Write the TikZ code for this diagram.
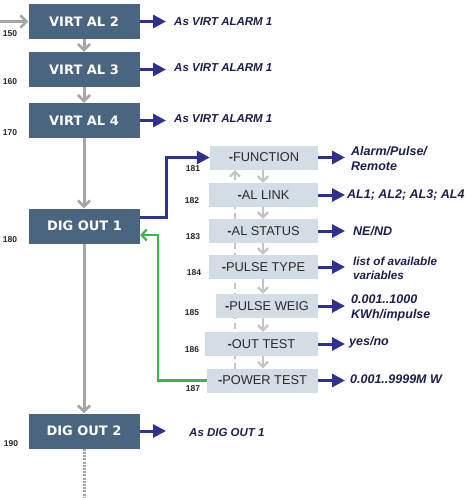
\documentclass[tikz,border=0pt]{standalone}
\usepackage{fontspec}
\setmainfont{Liberation Sans}
\newfontfamily\dvs{DejaVu Sans}
\usetikzlibrary{arrows.meta}
\definecolor{boxdark}{HTML}{4A6580}
\definecolor{boxlight}{HTML}{D3DDE6}
\definecolor{boxtext}{HTML}{2A2A2A}
\definecolor{navytext}{HTML}{1C1E4F}
\definecolor{bluearr}{HTML}{2E3192}
\definecolor{grayarr}{HTML}{A6A6A6}
\definecolor{lgrayarr}{HTML}{C4C4C4}
\definecolor{greenarr}{HTML}{3DB54A}
\begin{document}
\begin{tikzpicture}[x=1pt,y=-1pt,
  darkbox/.style={fill=boxdark, text=white, font=\dvs\bfseries\fontsize{13}{15}\selectfont,
    minimum width=111pt, minimum height=35pt, inner sep=0pt},
  lightbox/.style={fill=boxlight, text=boxtext, font=\fontsize{12.8}{14}\selectfont,
    minimum height=24pt, inner sep=0pt},
  numlabel/.style={font=\bfseries\fontsize{8.5}{10}\selectfont, text=black!85, inner sep=0pt},
  rtext/.style={font=\bfseries\itshape\fontsize{12.5}{15}\selectfont, text=navytext,
    anchor=west, align=left, inner sep=0pt},
  stext/.style={rtext, font=\bfseries\itshape\fontsize{11.5}{14}\selectfont},
  grayarrow/.style={draw=grayarr, line width=3pt, -{Straight Barb[length=6pt,width=12pt,line width=2.6pt]}},
  lgrayarrow/.style={draw=lgrayarr, line width=2.6pt, -{Straight Barb[length=5pt,width=10pt,line width=2.3pt]}},
  bluearrow/.style={draw=bluearr, line width=3pt, -{Triangle[length=13pt,width=13pt]}},
  greenarrow/.style={draw=greenarr, line width=2.4pt, -{Straight Barb[length=5pt,width=11pt,line width=2.2pt]}},
]
\useasboundingbox (0,0) rectangle (474,498);

% helper coordinates
\coordinate (inl) at (0,22);
\coordinate (tipx) at (166,0);
\coordinate (ltipx) at (345,0);
\coordinate (bx) at (166,0);
\coordinate (gx) at (158,0);
\coordinate (ax) at (263,0);
\coordinate (dashx) at (235,0);
\coordinate (dashtop) at (235,170);
\coordinate (bottom) at (84,498);

% dark boxes
\node[darkbox] (v2) at (84,21.5) {VIRT AL 2};
\node[darkbox] (v3) at (84,69.5) {VIRT AL 3};
\node[darkbox] (v4) at (84,120.5) {VIRT AL 4};
\node[darkbox] (d1) at (84.5,226) {DIG OUT 1};
\node[darkbox] (d2) at (84,431) {DIG OUT 2};

% numbers
\node[numlabel] (n150) at (10,34) {150};
\node[numlabel] (n160) at (10,82) {160};
\node[numlabel] (n170) at (10,133) {170};
\node[numlabel] (n180) at (10,240) {180};
\node[numlabel] (n190) at (11,444) {190};

% dashed return line behind light boxes
\draw[draw=lgrayarr, line width=2.8pt, dash pattern=on 6pt off 4pt] (dashx |- 0,369) -- (dashx |- 0,178);
\draw[draw=lgrayarr, line width=2.4pt, -{Straight Barb[length=5pt,width=10pt,line width=2.3pt]}] (dashx |- 0,180) -- (dashtop);

% light boxes
\node[lightbox, minimum width=108pt] (fn) at (264,157.5) {\textbf{-}FUNCTION};
\node[lightbox, minimum width=109pt] (al) at (263.5,195) {\textbf{-}AL LINK};
\node[lightbox, minimum width=109pt] (as) at (263.5,231) {\textbf{-}AL STATUS};
\node[lightbox, minimum width=109pt] (pty) at (263.5,267) {\textbf{-}PULSE TYPE};
\node[lightbox, minimum width=102pt] (pw) at (267,306) {\textbf{-}PULSE WEIG};
\node[lightbox, minimum width=113pt] (ot) at (261.5,344) {\textbf{-}OUT TEST};
\node[lightbox, minimum width=111pt] (pt) at (262.5,380.5) {\textbf{-}POWER TEST};

\node[numlabel] (n181) at (193,169) {181};
\node[numlabel] (n182) at (192,201) {182};
\node[numlabel] (n183) at (193,237) {183};
\node[numlabel] (n184) at (194,273) {184};
\node[numlabel] (n185) at (192,313) {185};
\node[numlabel] (n186) at (192,350) {186};
\node[numlabel] (n187) at (193,389) {187};

% gray flow arrows
\draw[grayarrow] (inl |- v2.west) -- (v2.west);
\draw[grayarrow] (v2.south) -- (v3.north);
\draw[grayarrow] (v3.south) -- (v4.north);
\draw[grayarrow] (v4.south) -- (d1.north -| v4.south);
\draw[grayarrow] (d1.south -| d2.north) -- (d2.north);
\draw[draw=grayarr, line width=3pt, dash pattern=on 2pt off 1.2pt] (d2.south) -- (bottom);

\draw[lgrayarrow] (fn.south -| ax) -- (al.north -| ax);
\draw[lgrayarrow] (al.south -| ax) -- (as.north -| ax);
\draw[lgrayarrow] (as.south -| ax) -- (pty.north -| ax);
\draw[lgrayarrow] (pty.south -| ax) -- (pw.north -| ax);
\draw[lgrayarrow] (pw.south -| ax) -- (ot.north -| ax);
\draw[lgrayarrow] (ot.south -| ax) -- (pt.north -| ax);

% blue arrows and texts (left column)
\draw[bluearrow] (v2.east) -- (tipx |- v2.east);
\draw[bluearrow] (v3.east) -- (tipx |- v3.east);
\draw[bluearrow] (v4.east) -- (tipx |- v4.east);
\draw[bluearrow] (d2.east) -- (tipx |- d2.east);
\node[stext] (t2) at (174,22) {As VIRT ALARM 1};
\node[stext] (t3) at (174,67.5) {As VIRT ALARM 1};
\node[stext] (t4) at (174,118.5) {As VIRT ALARM 1};
\node[stext] (td2) at (189,432.5) {As DIG OUT 1};

% blue elbow from DIG OUT 1 to FUNCTION
\draw[bluearrow] ([yshift=9pt]d1.east) -| (bx |- fn.west) -- (fn.west);

% green return
\draw[greenarrow] (pt.west) -| (gx |- 0,235) -- ([yshift=-9pt]d1.east);

% blue arrows and texts (right column)
\draw[bluearrow] (fn.east) -- (ltipx |- fn.east);
\draw[bluearrow] (al.east) -- (ltipx |- al.east);
\draw[bluearrow] (as.east) -- (ltipx |- as.east);
\draw[bluearrow] (pty.east) -- (ltipx |- pty.east);
\draw[bluearrow] (pw.east) -- (ltipx |- pw.east);
\draw[bluearrow] (ot.east) -- (ltipx |- ot.east);
\draw[bluearrow] (pt.east) -- (ltipx |- pt.east);

\node[rtext] (tfn) at (351,158.5) {Alarm/Pulse/\\Remote};
\node[rtext] (tal) at (347,195.5) {AL1; AL2; AL3; AL4};
\node[rtext] (tas) at (353,231) {NE/ND};
\node[rtext, font=\bfseries\itshape\fontsize{11.7}{14}\selectfont] (tpty) at (353,268) {list of available\\variables};
\node[rtext] (tpw) at (351,307.5) {0.001..1000\\KWh/impulse};
\node[rtext] (tot) at (349,342.5) {yes/no};
\node[rtext] (tpt) at (350,379.5) {0.001..9999M W};
\end{tikzpicture}
\end{document}
